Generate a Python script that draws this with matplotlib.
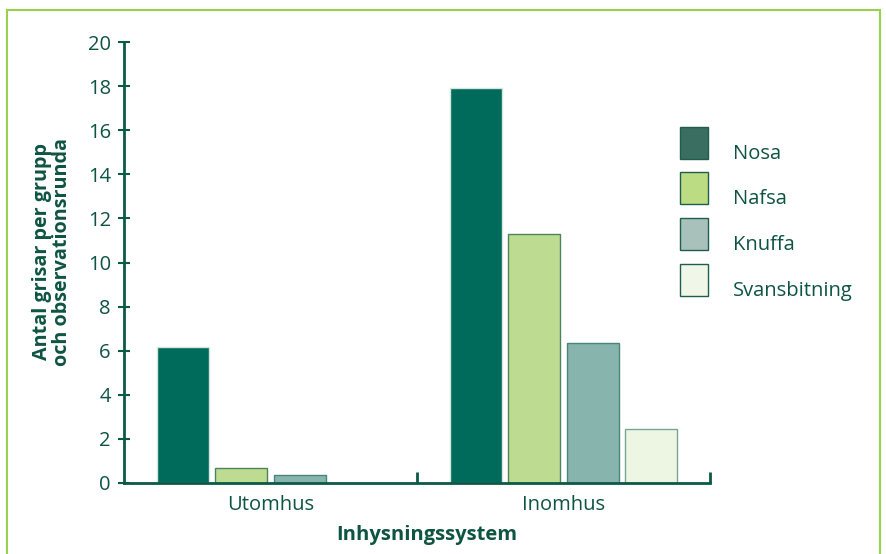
import matplotlib
matplotlib.use("Agg")
import matplotlib.pyplot as plt
from matplotlib.patches import Rectangle
import numpy as np

categories = ["Utomhus", "Inomhus"]
series = ["Nosa", "Nafsa", "Knuffa", "Svansbitning"]
values = {
    "Nosa": [6.15, 17.9],
    "Nafsa": [0.68, 11.27],
    "Knuffa": [0.36, 6.36],
    "Svansbitning": [0.0, 2.45],
}
yticks = [0, 2, 4, 6, 8, 10, 12, 14, 16, 18, 20]

bar_colors = ["#006B5A", "#BEDC91", "#88B4AE", "#EDF5E3"]
bar_edges = ["#d5e5df", "#4a8560", "#4a8577", "#7aa596"]
legend_colors = ["#396E60", "#BBDC82", "#A8C2BB", "#F0F7E8"]
txt = "#0E5443"
axc = "#0B5A46"

plt.rcParams['font.family'] = ['Open Sans', 'DejaVu Sans']

fig = plt.figure(figsize=(8.87, 5.54), dpi=100)
ax = fig.add_axes([124/887, 1-483/554, (710-124)/887, (483-42)/554])

centers = np.array([0.5, 1.5])
step = 0.199
width = 0.177
for i, s in enumerate(series):
    off = (i - 1.5) * step
    vals = np.array(values[s])
    mask = vals > 0
    ax.bar(centers[mask] + off, vals[mask], width=width, color=bar_colors[i],
           edgecolor=bar_edges[i], linewidth=1, zorder=2)

ax.set_xlim(0, 2)
ax.set_ylim(0, 20)
ax.set_yticks(yticks)
ax.set_yticklabels([str(v) for v in yticks], fontsize=14.5, color=txt)
ax.set_xticks([1, 2])
ax.set_xticklabels([])
ax.set_xticks(centers, minor=True)
ax.set_xticklabels(categories, minor=True, fontsize=14.5, color=txt)
ax.tick_params(axis='x', which='major', direction='in', length=8, width=2, color=axc)
ax.tick_params(axis='x', which='minor', length=0, pad=9)
ax.tick_params(axis='y', direction='inout', length=9, width=1.5, color=axc, pad=5)

for sp in ['top', 'right']:
    ax.spines[sp].set_visible(False)
for sp in ['left', 'bottom']:
    ax.spines[sp].set_color(axc)
    ax.spines[sp].set_linewidth(2)

ax.set_ylabel("Antal grisar per grupp\noch observationsrunda", fontsize=14.2,
              fontweight='bold', color=txt, labelpad=11, linespacing=1.0)
ax.yaxis.label.set_y((483 - 252) / 441)
ax.set_xlabel("Inhysningssystem", fontsize=14.5, fontweight='bold', color=txt, labelpad=7)
ax.xaxis.label.set_x((427 - 124) / 586)

# Legend (manual, figure pixel coords)
W, H = 887, 554
tops = [127, 172, 218, 264]
for i, s in enumerate(series):
    y0 = tops[i]
    fig.add_artist(Rectangle((680/W, 1-(y0+32)/H), 28/W, 32/H,
                             transform=fig.transFigure, facecolor=legend_colors[i],
                             edgecolor="#1F5E4C", linewidth=1))
    fig.text(733/W, 1-(y0+27)/H, s, fontsize=14.5, color=txt, va='center', ha='left')

# Outer frame
fig.add_artist(Rectangle((7/W, -0.05), (880-7)/W, 1.05-10/H, transform=fig.transFigure,
                         facecolor='none', edgecolor="#97D34A", linewidth=1.5))

fig.savefig("out.png", dpi=100)
